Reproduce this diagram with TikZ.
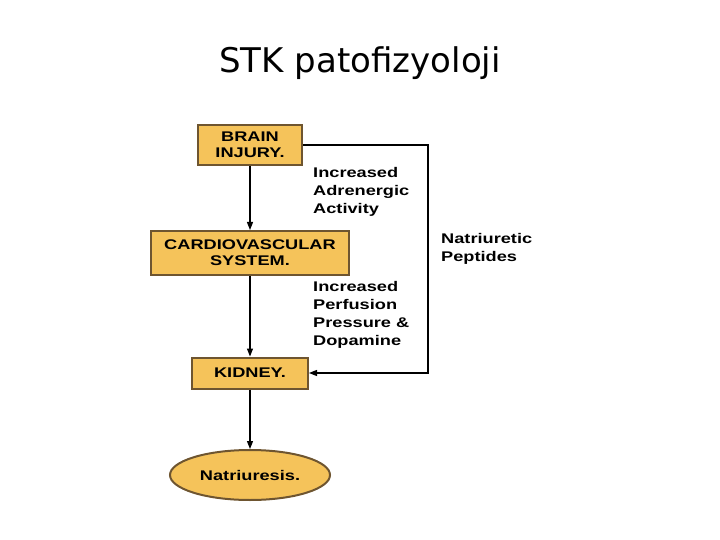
\documentclass[tikz,border=0pt]{standalone}
\usepackage{fontspec}
\setmainfont{Liberation Sans}
\newfontfamily\wideb[FakeStretch=1.3]{Liberation Sans}
\newfontfamily\titlefont{DejaVu Sans}
\usetikzlibrary{shapes.geometric,arrows.meta}
\definecolor{boxfill}{HTML}{F5C35A}
\definecolor{boxline}{HTML}{6E5530}
\begin{document}
\begin{tikzpicture}[x=1pt,y=-1pt,
  box/.style={draw=boxline,line width=2pt,fill=boxfill,align=center,font=\wideb\bfseries\fontsize{14}{16}\selectfont,inner sep=0pt},
  lab/.style={align=left,anchor=north west,font=\wideb\bfseries\fontsize{14}{18}\selectfont,inner sep=0pt},
  conn/.style={line width=1.3pt,-{Triangle[length=8pt,width=6pt]}}]
\useasboundingbox (0,0) rectangle (720,540);
\node[font=\titlefont\fontsize{34}{38}\selectfont] (title) at (360,63) {STK patofizyoloji};
\node[box,minimum width=104pt,minimum height=40pt] (brain) at (250,145) {BRAIN\\INJURY.};
\node[box,minimum width=198pt,minimum height=44pt] (cv) at (250,253) {CARDIOVASCULAR\\SYSTEM.};
\node[box,minimum width=116pt,minimum height=31pt] (kid) at (250,373) {KIDNEY.};
\node[ellipse,draw=boxline,line width=2pt,fill=boxfill,minimum width=160pt,minimum height=50pt,font=\wideb\bfseries\fontsize{14}{16}\selectfont,inner sep=0pt] (nat) at (250,475) {Natriuresis.};
\node[lab] (l1) at (313,167) {Increased\\Adrenergic\\Activity};
\node[lab] (l2) at (313,281) {Increased\\Perfusion\\Pressure \&\\Dopamine};
\node[lab] (l3) at (441,233) {Natriuretic\\Peptides};
\draw[conn] (brain) -- (cv);
\draw[conn] (cv) -- (kid);
\draw[conn] (kid) -- (nat);
\coordinate (c1) at (428,145);
\coordinate (c2) at (428,373);
\draw[conn] (brain.east) -- (c1) -- (c2) -- (kid.east);
\end{tikzpicture}
\end{document}
